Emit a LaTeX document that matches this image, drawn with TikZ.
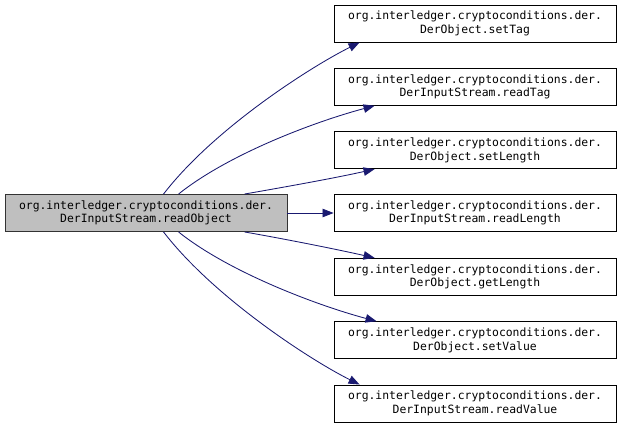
\documentclass[tikz,border=0pt]{standalone}
\usepackage{fontspec}
\setmonofont{DejaVu Sans Mono}
\usetikzlibrary{arrows.meta}
\definecolor{edgeblue}{HTML}{191970}
\definecolor{focusgray}{HTML}{BFBFBF}
\begin{document}
\begin{tikzpicture}[x=1pt,y=-1pt,
  fn/.style={draw=black, line width=0.9pt, fill=white, minimum width=282pt, minimum height=37pt,
    inner sep=0pt, align=center, font=\ttfamily\fontsize{11.4pt}{13.4pt}\selectfont},
  focus/.style={fn, fill=focusgray, draw=black!80},
  call/.style={draw=edgeblue, line width=0.85pt, -{Triangle[length=11pt,width=8.5pt]}}]
\useasboundingbox (0,0) rectangle (621,425);
\node[focus] (src) at (146,213) {org.interledger.cryptoconditions.der.\\DerInputStream.readObject};
\node[fn] (t1) at (475,23.5) {org.interledger.cryptoconditions.der.\\DerObject.setTag};
\node[fn] (t2) at (475,86.8) {org.interledger.cryptoconditions.der.\\DerInputStream.readTag};
\node[fn] (t3) at (475,150.2) {org.interledger.cryptoconditions.der.\\DerObject.setLength};
\node[fn] (t4) at (475,213) {org.interledger.cryptoconditions.der.\\DerInputStream.readLength};
\node[fn] (t5) at (475,276.8) {org.interledger.cryptoconditions.der.\\DerObject.getLength};
\node[fn] (t6) at (475,340.2) {org.interledger.cryptoconditions.der.\\DerObject.setValue};
\node[fn] (t7) at (475,403.5) {org.interledger.cryptoconditions.der.\\DerInputStream.readValue};
\draw[call] ([xshift=159pt]src.north west) .. controls +(50,-65) and +(-50,25) .. ([xshift=26pt]t1.south west);
\draw[call] ([xshift=174pt]src.north west) .. controls +(50,-40) and +(-60,16) .. ([xshift=41pt]t2.south west);
\draw[call] ([xshift=240pt]src.north west) .. controls +(40,-7) and +(-40,9) .. ([xshift=41pt]t3.south west);
\draw[call] (src.east) -- (t4.west);
\draw[call] ([xshift=240pt]src.south west) .. controls +(40,7) and +(-40,-9) .. ([xshift=41pt]t5.north west);
\draw[call] ([xshift=174pt]src.south west) .. controls +(50,40) and +(-60,-16) .. ([xshift=43pt]t6.north west);
\draw[call] ([xshift=159pt]src.south west) .. controls +(50,65) and +(-50,-25) .. ([xshift=26pt]t7.north west);
\end{tikzpicture}
\end{document}
